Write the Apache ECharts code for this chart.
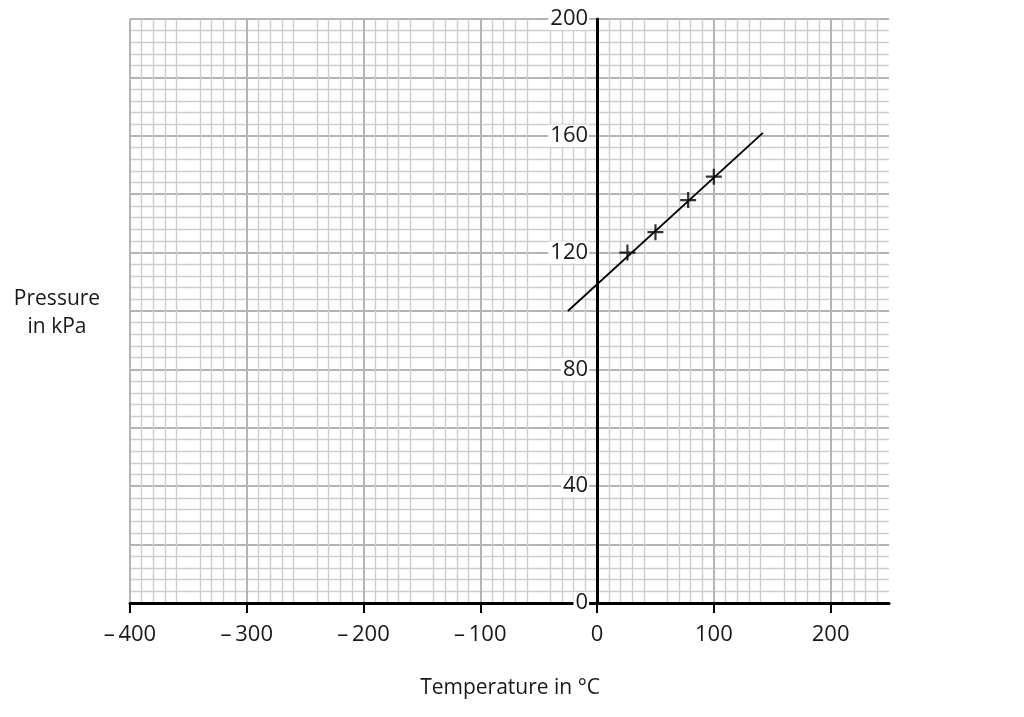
<!DOCTYPE html>
<html>
<head>
<meta charset="utf-8">
<script src="https://cdn.jsdelivr.net/npm/echarts@6/dist/echarts.min.js"></script>
<style>
html,body{margin:0;padding:0;background:#fff;}
#chart{width:1024px;height:717px;}
</style>
</head>
<body>
<div id="chart"></div>
<script>
// Measured points (temperature °C, pressure kPa)
const temperatures = [26, 50, 78, 100];
const pressures = [120, 127, 138, 146];
// Best-fit line end points
const fitTemperatures = [-25, 142];
const fitPressures = [100, 161];
// Tick labels
const xTickValues = [-400, -300, -200, -100, 0, 100, 200];
const yTickValues = [0, 40, 80, 120, 160, 200];
const xTitle = 'Temperature in °C';
const yTitle = 'Pressure\nin kPa';

const FONT = '"Open Sans", "Noto Sans", sans-serif';
const TEXT = '#1a1718';
const plus = 'path://M-1.1,-8 H1.1 V-1.1 H8 V1.1 H1.1 V8 H-1.1 V1.1 H-8 V-1.1 H-1.1 Z';

const X_MIN = -400, X_MAX = 250;
const GRID_LEFT = 130, GRID_RIGHT = 135;

const chart = echarts.init(document.getElementById('chart'), null, {renderer: 'canvas'});
const plotWidth = 1024 - GRID_LEFT - GRID_RIGHT;
// offset of the y axis so that it sits at temperature 0
const yAxisOffset = -plotWidth * (0 - X_MIN) / (X_MAX - X_MIN);

chart.setOption({
  animation: false,
  backgroundColor: '#fff',
  grid: {left: GRID_LEFT, right: GRID_RIGHT, top: 19, bottom: 114, containLabel: false},
  xAxis: {
    type: 'value', min: X_MIN, max: X_MAX, interval: 50,
    axisLine: {show: true, onZero: false, lineStyle: {color: '#000', width: 3}},
    axisTick: {show: true, length: 10, customValues: xTickValues, lineStyle: {color: '#000', width: 2}},
    axisLabel: {
      customValues: xTickValues, margin: 21, fontSize: 22, fontFamily: FONT, color: TEXT,
      formatter: v => v < 0 ? '\u2013\u2009' + Math.abs(v) : String(v)
    },
    splitLine: {show: true, lineStyle: {color: '#b4b4b4', width: 2}},
    minorTick: {show: false, splitNumber: 5},
    minorSplitLine: {show: true, lineStyle: {color: '#cdcdcd', width: 1.4}}
  },
  yAxis: [
    {
      type: 'value', min: 0, max: 200, interval: 20,
      axisLine: {show: false},
      axisTick: {show: false},
      axisLabel: {show: false},
      splitLine: {show: true, lineStyle: {color: '#b4b4b4', width: 2}},
      minorTick: {show: false, splitNumber: 5},
      minorSplitLine: {show: true, lineStyle: {color: '#cdcdcd', width: 1.4}}
    },
    {
      type: 'value', min: 0, max: 200, interval: 40, position: 'left', offset: yAxisOffset, z: 6,
      axisLine: {show: true, onZero: false, lineStyle: {color: '#000', width: 3}},
      axisTick: {show: false},
      axisLabel: {
        customValues: yTickValues, margin: 8, fontSize: 22, fontFamily: FONT, color: TEXT,
        backgroundColor: '#fff', padding: [0, 1, 0, 2], lineHeight: 22
      },
      splitLine: {show: false}
    }
  ],
  graphic: [
    {type: 'text', x: 510, y: 688,
     style: {text: xTitle, fontSize: 21, fontFamily: FONT, fill: TEXT, align: 'center', verticalAlign: 'middle'}},
    {type: 'text', x: 57, y: 313,
     style: {text: yTitle, fontSize: 21, fontFamily: FONT, fill: TEXT, align: 'center', verticalAlign: 'middle', lineHeight: 28}}
  ],
  series: [
    {
      type: 'line', data: fitTemperatures.map((t, i) => [t, fitPressures[i]]),
      symbol: 'none', lineStyle: {color: '#000', width: 1.8}, z: 3, silent: true
    },
    {
      type: 'scatter', data: temperatures.map((t, i) => [t, pressures[i]]),
      symbol: plus, symbolSize: 16, itemStyle: {color: '#000'}, z: 4, silent: true
    }
  ]
});
</script>
</body>
</html>
